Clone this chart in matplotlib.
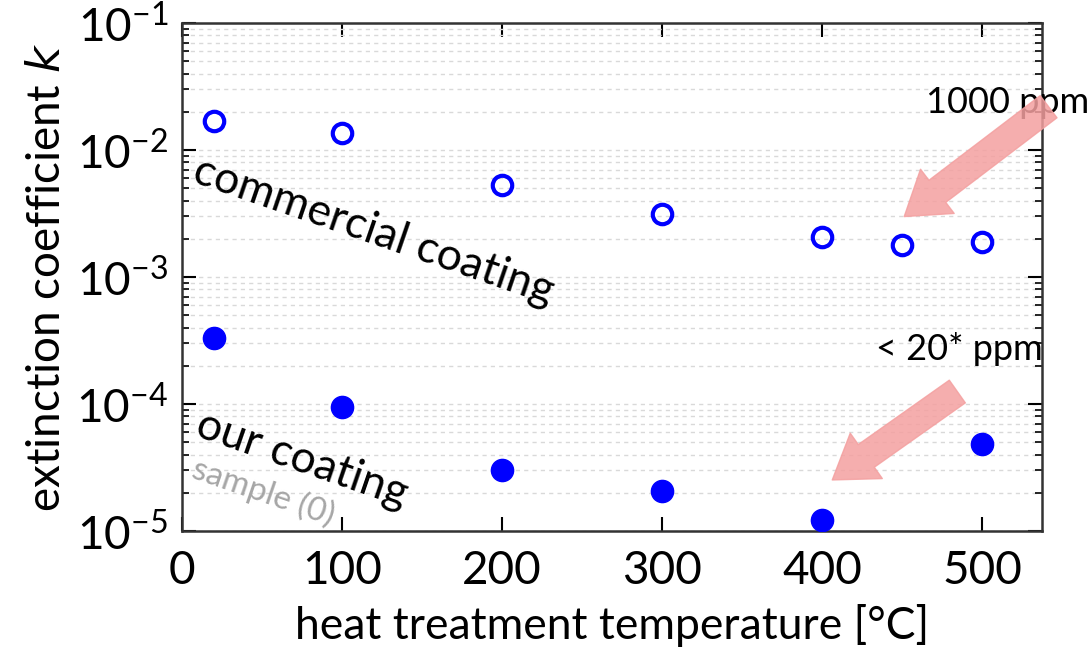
import matplotlib
matplotlib.use("Agg")
import matplotlib.pyplot as plt
from matplotlib.ticker import LogLocator, NullFormatter, FixedLocator
from matplotlib.patches import FancyArrowPatch

plt.rcParams["font.family"] = ["Lato", "DejaVu Sans"]

# data
commercial_T = [20, 100, 200, 300, 400, 450, 500]
commercial_k = [0.0169, 0.0136, 0.0053, 0.00313, 0.00207, 0.00179, 0.0019]
our_T = [20, 100, 200, 300, 400, 500]
our_k = [3.3e-4, 9.5e-5, 3.0e-5, 2.07e-5, 1.22e-5, 4.84e-5]
x_ticks = [0, 100, 200, 300, 400, 500]

fig = plt.figure(figsize=(10.92, 6.48), dpi=100)
ax = fig.add_axes([0.1667, 0.1806, 0.7875, 0.7839])
ax.set_yscale("log")
ax.set_xlim(0, 537.5)
ax.set_ylim(1e-5, 1e-1)

ax.yaxis.set_minor_locator(LogLocator(base=10, subs=range(2, 10), numticks=20))
ax.yaxis.set_minor_formatter(NullFormatter())
ax.yaxis.set_major_locator(LogLocator(base=10, numticks=10))
ax.grid(True, which="both", axis="y", color="#d9d9d9", linestyle=(0, (3, 3)), linewidth=1)
ax.set_axisbelow(True)

ax.plot(commercial_T, commercial_k, "o", mfc="none", mec="#0000ff", mew=3, ms=14, zorder=3)
ax.plot(our_T, our_k, "o", color="#0000ff", ms=16, zorder=3)

ax.xaxis.set_major_locator(FixedLocator(x_ticks))
ax.tick_params(which="both", direction="in", right=True, top=True, labelsize=33, pad=10)
ax.tick_params(axis="x", pad=14)
ax.tick_params(which="major", length=10, width=1.5)
ax.tick_params(which="minor", length=5, width=1.2)
for s in ax.spines.values():
    s.set_linewidth(1.8)
    s.set_color("#333333")

ax.set_xlabel("heat treatment temperature [°C]", fontsize=32, labelpad=8)
ax.set_ylabel("extinction coefficient $k$", fontsize=33, labelpad=6)

ax.text(12, 1.0e-2, "commercial coating", fontsize=32, rotation=-19,
        ha="left", va="top", rotation_mode="anchor")
ax.text(14, 1.0e-4, "our coating", fontsize=32, rotation=-19,
        ha="left", va="top", rotation_mode="anchor")
ax.text(10, 4.1e-5, "sample (0)", fontsize=24, rotation=-19, color="#a6a6a6",
        ha="left", va="top", rotation_mode="anchor")

ax.text(567, 0.0235, "1000 ppm", fontsize=26, ha="right", va="center", clip_on=False)
ax.text(538, 2.7e-4, "< 20* ppm", fontsize=26, ha="right", va="center", clip_on=False)

arrow_kw = dict(arrowstyle="simple,head_width=2.0,head_length=1.5,tail_width=1.0",
                color="#f4a0a0", alpha=0.85, mutation_scale=20, clip_on=False, zorder=4)
ax.add_patch(FancyArrowPatch((543, 0.0226), (450, 0.0029), **arrow_kw))
ax.add_patch(FancyArrowPatch((486, 1.29e-4), (405, 2.45e-5), **arrow_kw))

fig.savefig("out.png", dpi=100)
